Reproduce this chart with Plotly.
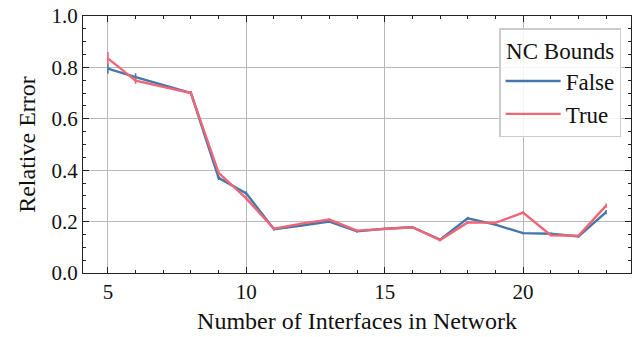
import plotly.graph_objects as go

# Number of interfaces in the network
interfaces = [5, 6, 8, 9, 10, 11, 12, 13, 14, 15, 16, 17, 18, 19, 20, 21, 22, 23]

# Mean relative error without NC bounds
err_false = [0.795, 0.762, 0.700, 0.370, 0.310, 0.170, 0.185, 0.200, 0.162, 0.172,
             0.178, 0.130, 0.213, 0.188, 0.155, 0.153, 0.142, 0.237]
std_false = [0.020, 0.015, 0.008, 0.008, 0.008, 0.005, 0.004, 0.005, 0.004, 0.004,
             0.004, 0.004, 0.006, 0.004, 0.004, 0.004, 0.004, 0.008]

# Mean relative error with NC bounds
err_true = [0.835, 0.748, 0.700, 0.390, 0.290, 0.172, 0.192, 0.208, 0.165, 0.172,
            0.178, 0.128, 0.197, 0.195, 0.235, 0.147, 0.145, 0.262]
std_true = [0.025, 0.012, 0.008, 0.008, 0.008, 0.005, 0.004, 0.005, 0.004, 0.004,
            0.004, 0.004, 0.006, 0.004, 0.006, 0.004, 0.004, 0.008]

series = [("False", err_false, std_false, "#4477AA"),
          ("True", err_true, std_true, "#EE6677")]

FONT = "'Liberation Serif', 'Times New Roman', Times, serif"
TICK_FS = 21
TITLE_FS = 24
LEGEND_FS = 23

fig = go.Figure()
for name, ys, es, color in series:
    fig.add_trace(go.Scatter(
        x=interfaces, y=ys, name=name, mode="lines",
        line=dict(color=color, width=2.4),
        error_y=dict(type="data", array=es, visible=True, color=color,
                     thickness=1.6, width=0),
    ))

axis_common = dict(
    showline=True, linecolor="#222", linewidth=1.2, mirror="allticks",
    ticks="inside", ticklen=6, tickwidth=1.2, tickcolor="#222",
    showgrid=True, gridcolor="#b8b8b8", gridwidth=1, zeroline=False,
    tickfont=dict(family=FONT, size=TICK_FS, color="#111"),
)

fig.update_xaxes(
    range=[4.1, 23.9], tickvals=[5, 10, 15, 20],
    minor=dict(ticks="inside", ticklen=3, tickwidth=1, tickcolor="#222", dtick=1,
               tick0=0, showgrid=False),
    title=dict(text="Number of Interfaces in Network",
               font=dict(family=FONT, size=TITLE_FS, color="#111"), standoff=8),
    **axis_common,
)
fig.update_yaxes(
    range=[0, 1.0], tickvals=[0, 0.2, 0.4, 0.6, 0.8, 1.0], tickformat=".1f",
    minor=dict(ticks="inside", ticklen=3, tickwidth=1, tickcolor="#222", dtick=0.05,
               tick0=0, showgrid=False),
    title=dict(text="Relative Error",
               font=dict(family=FONT, size=TITLE_FS, color="#111"), standoff=9),
    **axis_common,
)

fig.update_layout(
    width=633, height=337,
    margin=dict(l=83, r=2, t=16, b=64),
    plot_bgcolor="white", paper_bgcolor="white",
    font=dict(family=FONT, color="#111"),
    showlegend=True,
    legend=dict(
        title=dict(text="NC Bounds", side="top center",
                   font=dict(family=FONT, size=LEGEND_FS, color="#111")),
        font=dict(family=FONT, size=LEGEND_FS, color="#111"),
        x=0.982, xanchor="right", y=0.953, yanchor="top",
        bgcolor="rgba(255,255,255,0.85)", bordercolor="#cccccc", borderwidth=1.5,
        itemwidth=55, tracegroupgap=0,
    ),
)

fig.write_html("out.html")
